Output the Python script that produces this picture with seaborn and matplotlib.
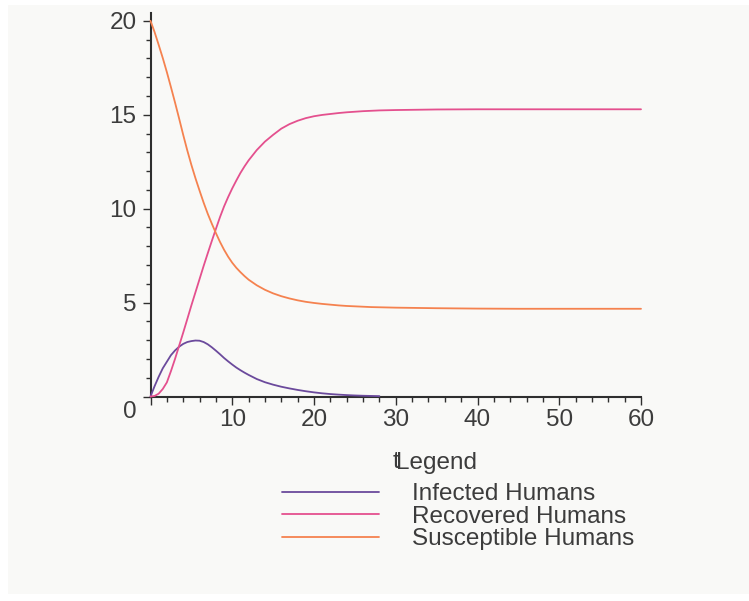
import matplotlib
matplotlib.use("Agg")
import matplotlib.pyplot as plt
import pandas as pd
import seaborn as sns
from matplotlib.patches import Rectangle
from matplotlib.ticker import MultipleLocator
from matplotlib.transforms import ScaledTranslation

# ---- data -------------------------------------------------------------
t_early = [0, 0.5, 1, 1.5, 2, 2.5, 3, 3.5, 4, 4.5, 5, 5.5, 6, 6.5, 7, 7.5,
           8, 8.5, 9, 9.5, 10, 10.5, 11, 11.5, 12]
t_full = t_early + list(range(13, 31)) + [35, 40, 45, 50, 55, 60]
t_infected = t_early + list(range(13, 29))

infected = [0.0, 0.55, 1.05, 1.5, 1.85, 2.2, 2.45, 2.65, 2.8, 2.9,
            2.95, 2.98, 2.97, 2.9, 2.78, 2.62, 2.44, 2.25, 2.05, 1.87,
            1.7, 1.54, 1.4, 1.27, 1.15,
            0.93, 0.76, 0.63, 0.52, 0.43, 0.35, 0.28, 0.22, 0.17, 0.13,
            0.1, 0.075, 0.055, 0.04, 0.03, 0.02]

recovered = [0.0, 0.03, 0.15, 0.4, 0.75, 1.35, 2.0, 2.7, 3.4, 4.12,
             4.85, 5.55, 6.25, 6.95, 7.62, 8.28, 8.92, 9.55, 10.12, 10.62,
             11.08, 11.5, 11.9, 12.25, 12.57,
             13.12, 13.57, 13.93, 14.26, 14.5, 14.68, 14.82, 14.92, 14.99, 15.04,
             15.09, 15.13, 15.16, 15.19, 15.21, 15.23, 15.24, 15.25,
             15.28, 15.29, 15.29, 15.29, 15.29, 15.29]

susceptible = [20.0, 19.4, 18.72, 18.02, 17.27, 16.47, 15.65, 14.8, 13.93, 13.1,
               12.33, 11.62, 10.96, 10.32, 9.73, 9.2, 8.7, 8.23, 7.81, 7.44,
               7.12, 6.85, 6.62, 6.41, 6.22,
               5.92, 5.68, 5.49, 5.34, 5.22, 5.12, 5.04, 4.98, 4.93, 4.89,
               4.85, 4.82, 4.8, 4.78, 4.76, 4.75, 4.74, 4.73,
               4.7, 4.68, 4.67, 4.67, 4.67, 4.67]

series_names = ["Infected Humans", "Recovered Humans", "Susceptible Humans"]
series_colors = ["#6b4a9c", "#e4508e", "#f5824f"]

x_ticks = [0, 10, 20, 30, 40, 50, 60]
x_tick_labels = ["", "10", "20", "30", "40", "50", "60"]
y_ticks = [0, 5, 10, 15, 20]
y_tick_labels = ["0", "5", "10", "15", "20"]

df = pd.concat([
    pd.DataFrame({"t": t_infected, "value": infected, "series": series_names[0]}),
    pd.DataFrame({"t": t_full, "value": recovered, "series": series_names[1]}),
    pd.DataFrame({"t": t_full, "value": susceptible, "series": series_names[2]}),
], ignore_index=True)

# ---- style ------------------------------------------------------------
sns.set_theme(style="white")
plt.rcParams["font.family"] = ["Liberation Sans", "DejaVu Sans"]

panel = "#f9f9f7"
ink = "#2f2f2f"
text_col = "#3c3c3c"
fs = 17.5
W, H = 749, 601

fig = plt.figure(figsize=(W / 100, H / 100), dpi=100)
fig.patch.set_facecolor("white")
fig.patches.append(Rectangle((8 / W, 1 - 594 / H), (W - 8) / W, (594 - 5) / H,
                             transform=fig.transFigure, facecolor=panel,
                             edgecolor="none", zorder=-1))

ax = fig.add_axes([150.5 / W, 1 - 396.5 / H, (641 - 150.5) / W, (396.5 - 13.3) / H])
ax.set_facecolor("none")

sns.lineplot(data=df, x="t", y="value", hue="series", hue_order=series_names,
             palette=dict(zip(series_names, series_colors)), linewidth=1.3,
             estimator=None, sort=False, ax=ax)
for ln in ax.get_lines():
    ln.set_zorder(3)
    ln.set_clip_on(False)

handles, labels = ax.get_legend_handles_labels()
ax.get_legend().remove()

ax.set_xlim(0, 60)
ax.set_ylim(0, 20.4)
for s in ("top", "right"):
    ax.spines[s].set_visible(False)
for s in ("left", "bottom"):
    ax.spines[s].set_color(ink)
    ax.spines[s].set_linewidth(1.5)

ax.set_xticks(x_ticks, x_tick_labels)
ax.set_yticks(y_ticks, y_tick_labels)
ax.xaxis.set_minor_locator(MultipleLocator(2))
ax.yaxis.set_minor_locator(MultipleLocator(1))
ax.tick_params(which="major", length=6, width=1, color=ink, labelsize=fs,
               labelcolor=text_col, pad=3)
ax.tick_params(which="minor", length=3.5, width=1, color=ink)
ax.tick_params(axis="y", which="both", left=True, pad=4)
ax.tick_params(axis="x", which="both", bottom=True)

# the "0" on the vertical axis sits just below the origin
zero_lbl = ax.get_yticklabels()[0]
zero_lbl.set_transform(zero_lbl.get_transform() + ScaledTranslation(0, -9 / 72, fig.dpi_scale_trans))

ax.set_xlabel("t", fontsize=fs, color=text_col, labelpad=14.5)
ax.set_ylabel("")

fig.text(396 / W, 1 - 463 / H, "Legend", fontsize=fs, color=text_col,
         ha="left", va="center")
fig.legend(handles, labels, loc="upper left",
           bbox_to_anchor=(282 / W, 1 - 483 / H), bbox_transform=fig.transFigure,
           frameon=False, fontsize=fs, labelcolor=text_col, borderpad=0,
           borderaxespad=0, handlelength=4.0, handletextpad=1.35,
           labelspacing=0.025)

fig.savefig("out.png", dpi=100, facecolor="white")
